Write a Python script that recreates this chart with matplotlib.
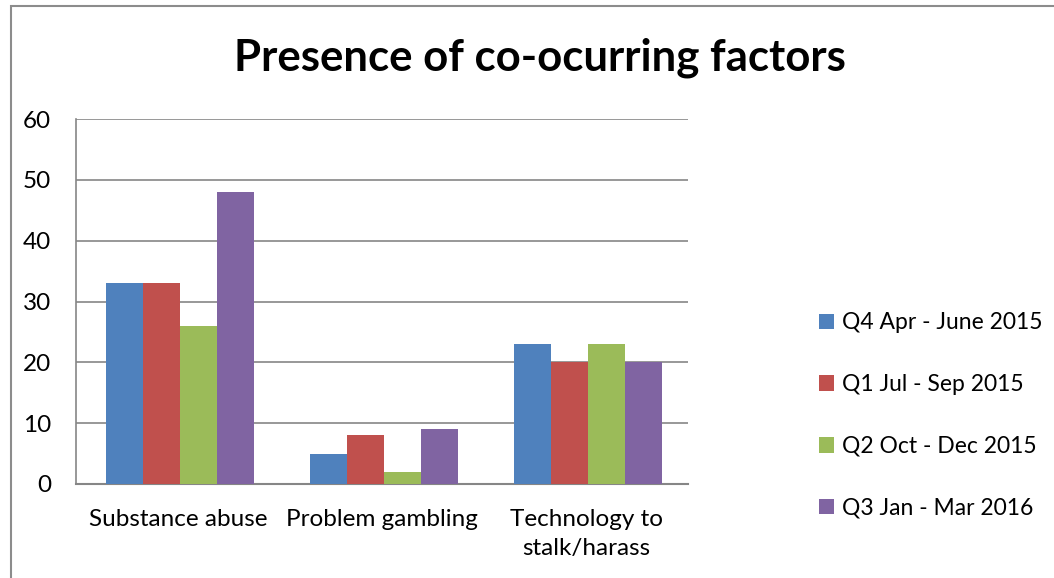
import matplotlib
matplotlib.use("Agg")
import matplotlib.pyplot as plt
import numpy as np
from matplotlib.patches import Rectangle

categories = ["Substance abuse", "Problem gambling", "Technology to\nstalk/harass"]
series_names = ["Q4 Apr - June 2015", "Q1 Jul - Sep 2015", "Q2 Oct - Dec 2015", "Q3 Jan - Mar 2016"]
q4 = [33, 5, 23]
q1 = [33, 8, 20]
q2 = [26, 2, 23]
q3 = [48, 9, 20]
colors = ["#4F81BD", "#C0504D", "#9BBB59", "#8064A2"]
yticks = [0, 10, 20, 30, 40, 50, 60]

plt.rcParams['font.family'] = ['Lato', 'DejaVu Sans']

fig = plt.figure(figsize=(10.54, 5.78), dpi=100)
fig.patches.append(Rectangle((11/1054, -0.1), 1.2, 1 - 6/578 + 0.1, transform=fig.transFigure,
                             fill=False, edgecolor="#8C8C8C", linewidth=1.5))

ax = fig.add_axes([76/1054, 1 - 484/578, 612/1054, 365/578])
x = np.arange(len(categories))
w = 0.182
for i, (vals, c, name) in enumerate(zip([q4, q1, q2, q3], colors, series_names)):
    ax.bar(x + (i - 1.5) * w + 0.01, vals, width=w, color=c, label=name, zorder=3)

ax.set_xlim(-0.5, 2.5)
ax.set_ylim(0, 60)
ax.set_yticks(yticks)
ax.set_yticklabels([str(t) for t in yticks], fontsize=17.5)
ax.set_xticks(x)
ax.set_xticklabels(categories, fontsize=17.5, linespacing=1.45)
ax.tick_params(axis='y', length=0, pad=18)
ax.tick_params(axis='x', length=0, pad=18)
ax.grid(axis='y', color="#868686", linewidth=1.2, zorder=0)
for s in ["top", "right"]:
    ax.spines[s].set_visible(False)
ax.spines["left"].set_color("#868686")
ax.spines["bottom"].set_color("#868686")
ax.spines["left"].set_linewidth(1.2)
ax.spines["bottom"].set_linewidth(1.5)

fig.text(540/1054, 1 - 58/578, "Presence of co-ocurring factors", ha="center", va="center",
         fontsize=31.5, fontweight="bold")

leg = fig.legend(loc="upper left", bbox_to_anchor=(801/1054, 1 - 294/578), frameon=False,
                 fontsize=16.5, handlelength=0.65, handleheight=0.65, handletextpad=0.35,
                 labelspacing=1.78, borderpad=0.3)

fig.savefig("out.png", dpi=100)
